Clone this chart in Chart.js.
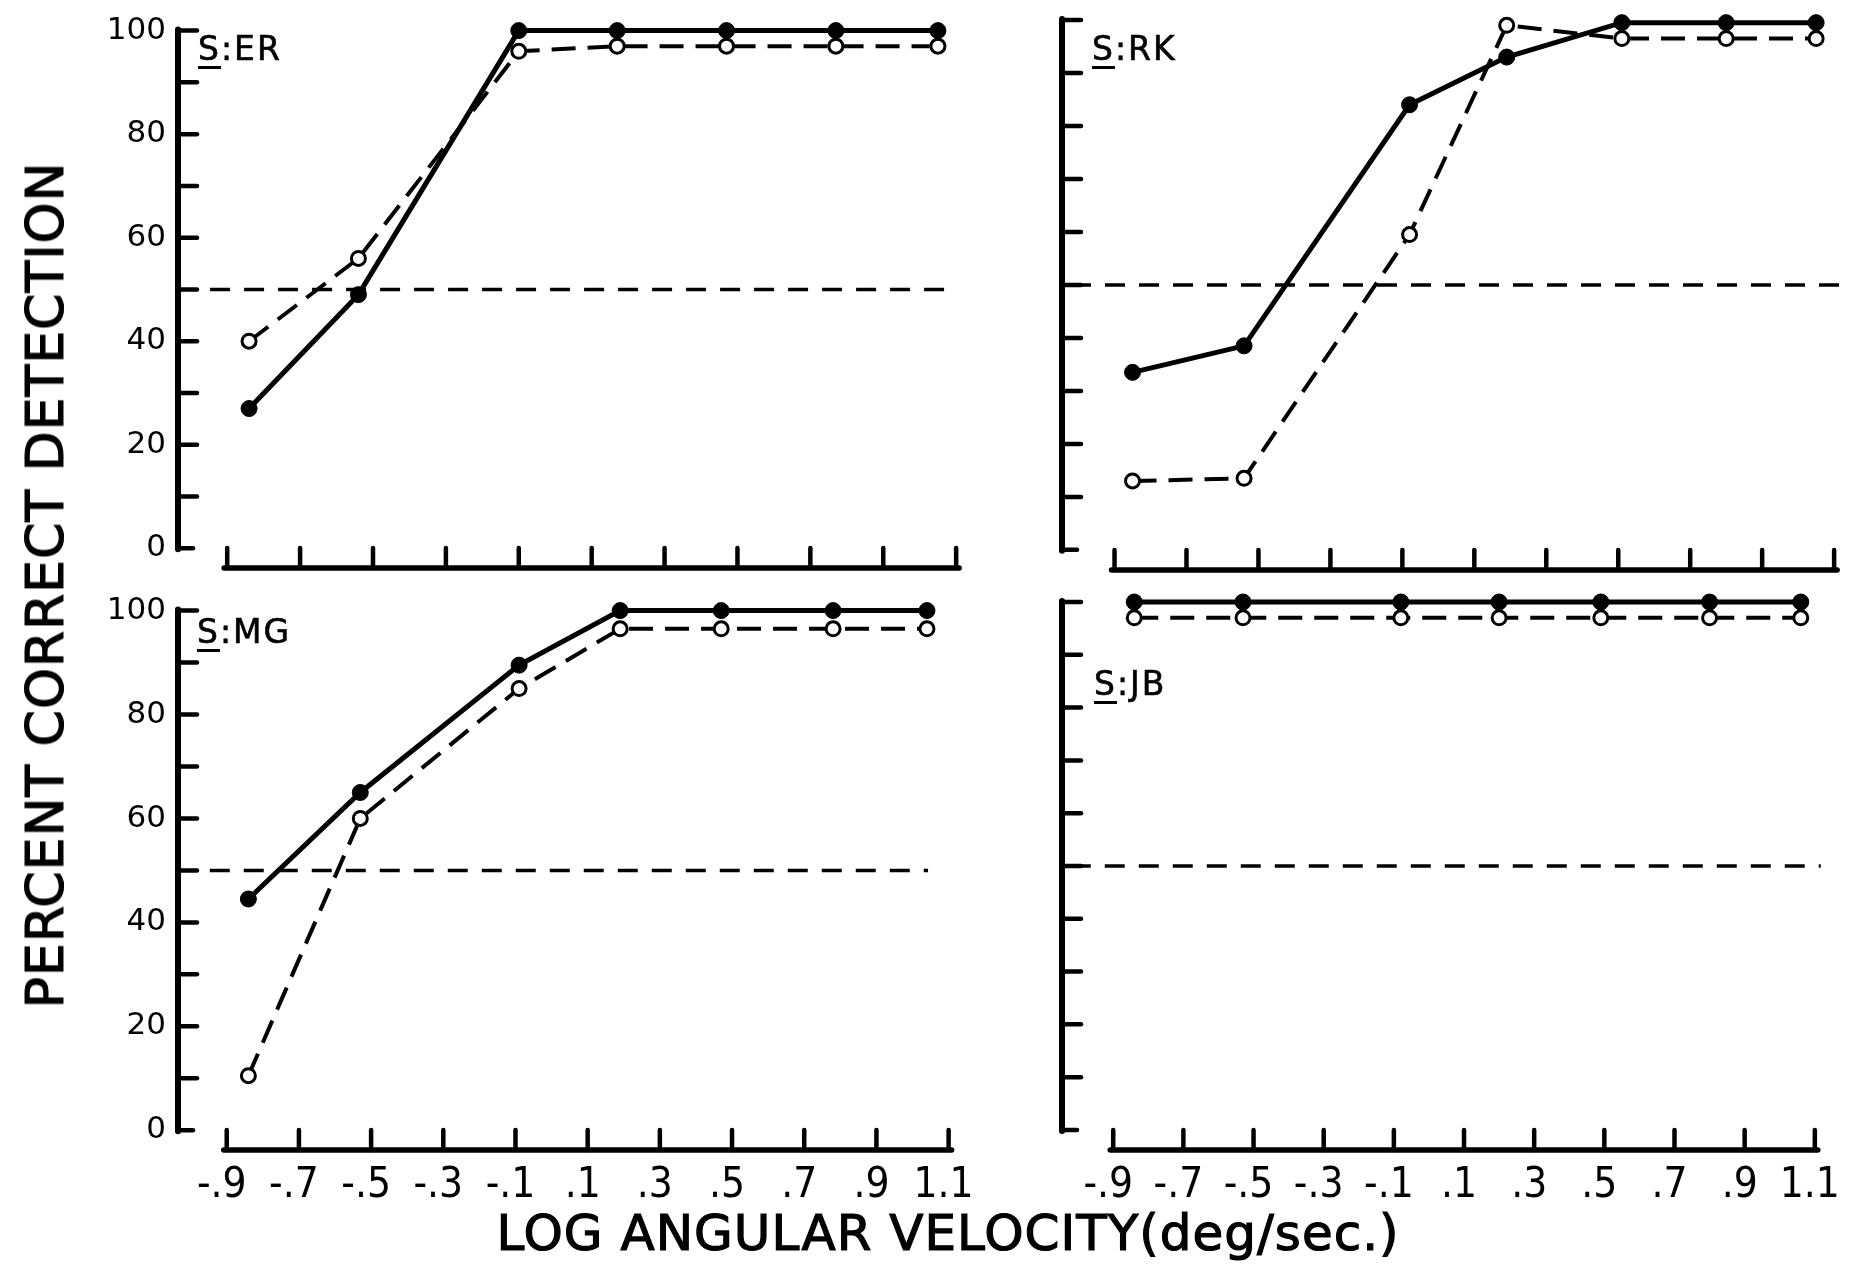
<!DOCTYPE html>
<html>
<head>
<meta charset="utf-8">
<script src="https://cdn.jsdelivr.net/npm/chart.js@4.4.1/dist/chart.umd.min.js"></script>
<style>
html,body{margin:0;padding:0;background:#fff;}
body{width:1856px;height:1265px;position:relative;overflow:hidden;font-family:'DejaVu Sans',sans-serif;color:#000;}
canvas{position:absolute;}
.slbl{position:absolute;font-size:33px;line-height:33px;letter-spacing:2px;white-space:nowrap;-webkit-text-stroke:0.6px #000;}
.slbl u{text-decoration:underline;text-decoration-thickness:3px;text-underline-offset:6px;}
#ytitle{position:absolute;left:45px;top:585px;font-size:52px;line-height:52px;letter-spacing:1px;white-space:nowrap;transform:translate(-50%,-50%) rotate(-90deg);-webkit-text-stroke:1.2px #000;}
#xtitle{position:absolute;left:948px;top:1208px;font-size:50px;line-height:50px;letter-spacing:1px;white-space:nowrap;transform:translateX(-50%);-webkit-text-stroke:1.2px #000;}
</style>
</head>
<body>
<canvas id="cER" width="990" height="600" style="left:0;top:0"></canvas>
<canvas id="cRK" width="866" height="600" style="left:990px;top:0"></canvas>
<canvas id="cMG" width="990" height="685" style="left:0;top:580px"></canvas>
<canvas id="cJB" width="866" height="685" style="left:990px;top:580px"></canvas>

<div class="slbl" style="left:198px;top:32px"><u>S</u>:ER</div>
<div class="slbl" style="left:1092px;top:32px"><u>S</u>:RK</div>
<div class="slbl" style="left:197px;top:615px"><u>S</u>:MG</div>
<div class="slbl" style="left:1094px;top:667px"><u>S</u>:JB</div>
<div id="ytitle">PERCENT CORRECT DETECTION</div>
<div id="xtitle">LOG ANGULAR VELOCITY(deg/sec.)</div>

<script>
// ---- tick values / labels ----
const xTickValues = [-0.9, -0.7, -0.5, -0.3, -0.1, 0.1, 0.3, 0.5, 0.7, 0.9, 1.1];
const xTickLabels = ['-.9', '-.7', '-.5', '-.3', '-.1', '.1', '.3', '.5', '.7', '.9', '1.1'];
const yTickValues = [0, 10, 20, 30, 40, 50, 60, 70, 80, 90, 100];
const yTickLabels = ['0', '', '20', '', '40', '', '60', '', '80', '', '100'];
const chanceLevel = 50;

// ---- data (log angular velocity, percent correct) ----
const velER = [-0.84, -0.54, -0.10, 0.17, 0.47, 0.77, 1.05];
const filledER = [27, 49, 100, 100, 100, 100, 100];
const openER = [40, 56, 96, 97, 97, 97, 97];

const velRK = [-0.85, -0.54, -0.08, 0.19, 0.51, 0.80, 1.05];
const filledRK = [33.5, 38.5, 84, 93, 99.5, 99.5, 99.5];
const openRK = [13, 13.5, 59.5, 99, 96.5, 96.5, 96.5];

const velMG = [-0.84, -0.53, -0.09, 0.19, 0.47, 0.78, 1.04];
const filledMG = [44.5, 65, 89.5, 100, 100, 100, 100];
const openMG = [10.5, 60, 85, 96.5, 96.5, 96.5, 96.5];

const velJB = [-0.84, -0.53, -0.08, 0.20, 0.49, 0.80, 1.06];
const filledJB = [100, 100, 100, 100, 100, 100, 100];
const openJB = [97, 97, 97, 97, 97, 97, 97];

// extent of the 50% reference line (x units)
const chanceSpanER = [-0.947, 1.092];
const chanceSpanRK = [-1.021, 1.117];
const chanceSpanMG = [-0.947, 1.043];
const chanceSpanJB = [-1.021, 1.117];

Chart.defaults.font.family = "'DejaVu Sans', sans-serif";
Chart.defaults.color = '#000';

const axisPlugin = {
  id: 'axisPlugin',
  beforeDatasetsDraw(chart) {
    const ctx = chart.ctx, xs = chart.scales.x, ys = chart.scales.y;
    const ax = chart.chartArea.left;
    const y0 = ys.getPixelForValue(0), y100 = ys.getPixelForValue(100);
    ctx.save();
    ctx.strokeStyle = '#000';
    ctx.lineCap = 'round';
    ctx.lineWidth = 6;
    ctx.beginPath(); ctx.moveTo(ax, y100 - 1); ctx.lineTo(ax, y0 + 1); ctx.stroke();
    ctx.lineWidth = 4.5;
    yTickValues.forEach(v => {
      const py = ys.getPixelForValue(v);
      ctx.beginPath(); ctx.moveTo(ax, py); ctx.lineTo(ax + (v === 0 ? 15 : 19), py); ctx.stroke();
    });
    const by = chart.chartArea.bottom;
    const x1 = xs.getPixelForValue(xTickValues[0]) - 3;
    const x2 = xs.getPixelForValue(xTickValues[xTickValues.length - 1]) + 3;
    ctx.lineWidth = 5.5;
    ctx.beginPath(); ctx.moveTo(x1, by); ctx.lineTo(x2, by); ctx.stroke();
    ctx.lineWidth = 4.5;
    xTickValues.forEach(v => {
      const px = xs.getPixelForValue(v);
      ctx.beginPath(); ctx.moveTo(px, by); ctx.lineTo(px, by - 20); ctx.stroke();
    });
    ctx.restore();
  }
};

function pts(xv, yv) { return xv.map((x, i) => ({x: x, y: yv[i]})); }

function makePanel(id, vel, filled, open, span, cfg) {
  const ctx = document.getElementById(id);
  return new Chart(ctx, {
    type: 'line',
    data: {
      datasets: [
        {
          data: pts(vel, filled),
          borderColor: '#000', borderWidth: 5,
          pointRadius: 8, pointBackgroundColor: '#000', pointBorderColor: '#000', pointBorderWidth: 1,
          tension: 0, clip: false
        },
        {
          data: pts(vel, open),
          borderColor: '#000', borderWidth: 4, borderDash: [24, 12],
          pointRadius: 7, pointBackgroundColor: '#fff', pointBorderColor: '#000', pointBorderWidth: 3,
          tension: 0, clip: false
        },
        {
          data: [{x: span[0], y: chanceLevel}, {x: span[1], y: chanceLevel}],
          borderColor: '#000', borderWidth: 3.5, borderDash: [20, 14],
          pointRadius: 0, tension: 0, clip: false
        }
      ]
    },
    options: {
      responsive: false, animation: false, devicePixelRatio: 1,
      layout: {padding: {top: cfg.padTop, right: cfg.padRight, left: 0, bottom: 0}},
      plugins: {legend: {display: false}, tooltip: {enabled: false}},
      scales: {
        x: {
          type: 'linear', min: cfg.xMin, max: cfg.xMax,
          grid: {display: false, drawTicks: false},
          border: {display: false},
          afterBuildTicks: s => { s.ticks = xTickValues.map(v => ({value: v})); },
          afterFit: s => { s.height = cfg.xH; },
          ticks: {
            display: cfg.xLabels, autoSkip: false, maxRotation: 0, padding: 11, labelOffset: -5,
            font: {family: "'Liberation Sans Narrow', 'DejaVu Sans Condensed', 'Liberation Sans', sans-serif", size: 42},
            callback: (v, i) => xTickLabels[i]
          }
        },
        y: {
          type: 'linear', min: -3.8, max: 100,
          grid: {display: false, drawTicks: false},
          border: {display: false},
          afterBuildTicks: s => { s.ticks = yTickValues.map(v => ({value: v})); },
          afterFit: s => { s.width = cfg.yW; },
          ticks: {
            display: cfg.yLabels, autoSkip: false, padding: 12,
            font: {size: 31},
            callback: (v, i) => yTickLabels[i]
          }
        }
      }
    },
    plugins: [axisPlugin]
  });
}

makePanel('cER', velER, filledER, openER, chanceSpanER,
  {padTop: 18, padRight: 16, yW: 178, xH: 32, xMin: -1.035, xMax: 1.149, xLabels: false, yLabels: true});
makePanel('cRK', velRK, filledRK, openRK, chanceSpanRK,
  {padTop: 20, padRight: 4, yW: 72, xH: 30, xMin: -1.046, xMax: 1.133, xLabels: false, yLabels: false});
makePanel('cMG', velMG, filledMG, openMG, chanceSpanMG,
  {padTop: 22, padRight: 16, yW: 178, xH: 115, xMin: -1.035, xMax: 1.149, xLabels: true, yLabels: true});
makePanel('cJB', velJB, filledJB, openJB, chanceSpanJB,
  {padTop: 22, padRight: 4, yW: 72, xH: 115, xMin: -1.046, xMax: 1.133, xLabels: true, yLabels: false});
</script>
</body>
</html>
